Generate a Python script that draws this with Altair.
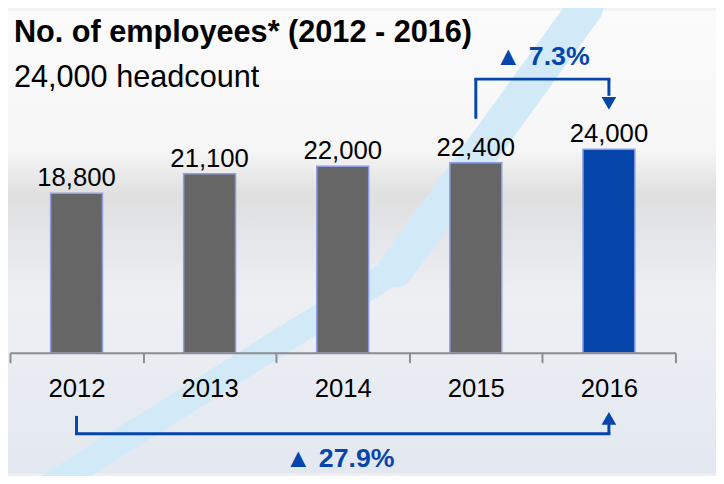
import altair as alt
import pandas as pd

years = ["2012", "2013", "2014", "2015", "2016"]
employees = [18800, 21100, 22000, 22400, 24000]
highlight = ["no", "no", "no", "no", "yes"]

title_text = "No. of employees* (2012 - 2016)"
subtitle_text = "24,000 headcount"

BLUE = "#0646ab"
GRAY = "#666666"
FONT = "Liberation Sans, Arial, sans-serif"

df = pd.DataFrame({"year": years, "employees": employees, "hl": highlight})

# annotation brackets (levels in data units of the y scale)
upper_from, upper_to = "2015", "2016"
upper_start, upper_level, upper_end, upper_tip = 27600, 32270, 30300, 29400
upper_label, upper_label_y = "▲  7.3%", 33900
lower_from, lower_to = "2012", "2016"
lower_start, lower_level, lower_end, lower_tip = -7450, -9550, -8300, -7750
lower_label, lower_label_y = "▲  27.9%", -13500

xscale = alt.Scale(domain=years, paddingInner=0, paddingOuter=0)
yscale = alt.Scale(domain=[0, 40000], nice=False)

# decorative background (photo-like gradient and light-blue stripe)
one = pd.DataFrame({"k": [0]})
bg = alt.Chart(one).mark_rect(
    fill=alt.Gradient(
        gradient="linear", x1=0, y1=0, x2=0, y2=1,
        stops=[
            alt.GradientStop(offset=0.0, color="#fbfbfb"),
            alt.GradientStop(offset=0.30, color="#f6f6f6"),
            alt.GradientStop(offset=0.40, color="#dfdfdf"),
            alt.GradientStop(offset=0.48, color="#e4e5e8"),
            alt.GradientStop(offset=0.62, color="#edeff3"),
            alt.GradientStop(offset=1.0, color="#e3e8f0"),
        ],
    )
).encode(x=alt.value(-2), x2=alt.value(714), y=alt.value(-3), y2=alt.value(465))

STRIPE = "#d2eaf8"
stripe_top = alt.Chart(one).mark_rule(color=STRIPE, strokeWidth=36, strokeCap="round").encode(
    x=alt.value(582), x2=alt.value(390), y=alt.value(-6), y2=alt.value(259)
)
stripe_bot = alt.Chart(one).mark_rule(color=STRIPE, strokeWidth=27, strokeCap="round").encode(
    x=alt.value(390), x2=alt.value(40), y=alt.value(259), y2=alt.value(478)
)

titles = alt.Chart(pd.DataFrame({"t": [title_text]})).mark_text(
    font=FONT, fontSize=31, fontWeight="bold", color="#000000", align="left", baseline="alphabetic"
).encode(x=alt.value(4), y=alt.value(29), text="t:N")
subtitles = alt.Chart(pd.DataFrame({"t": [subtitle_text]})).mark_text(
    font=FONT, fontSize=31, color="#000000", align="left", baseline="alphabetic"
).encode(x=alt.value(4), y=alt.value(74), text="t:N")

base = alt.Chart(df)

bars = base.mark_bar(width=alt.RelativeBandSize(0.39), stroke="#8e9ee6", strokeWidth=1.5).encode(
    x=alt.X("year:N", scale=xscale, title=None,
            axis=alt.Axis(tickBand="extent", labelAngle=0, labelFont=FONT, labelFontSize=26,
                          labelColor="#000000", labelPadding=13, domainColor="#8c8c8c",
                          domainWidth=2, tickColor="#8c8c8c", tickWidth=2, tickSize=10, zindex=1)),
    y=alt.Y("employees:Q", scale=yscale, axis=None),
    fill=alt.Fill("hl:N", scale=alt.Scale(domain=["no", "yes"], range=[GRAY, BLUE]), legend=None),
)

labels = base.mark_text(font=FONT, fontSize=26, baseline="alphabetic", dy=-7, color="#000000").encode(
    x=alt.X("year:N", scale=xscale),
    y=alt.Y("employees:Q", scale=yscale),
    text=alt.Text("employees:Q", format=","),
)

vdf = pd.DataFrame({
    "year": [upper_from, upper_to, lower_from, lower_to],
    "y1": [upper_start, upper_level, lower_start, lower_level],
    "y2": [upper_level, upper_end, lower_level, lower_end],
})
vlines = alt.Chart(vdf).mark_rule(color=BLUE, strokeWidth=3).encode(
    x=alt.X("year:N", scale=xscale),
    y=alt.Y("y1:Q", scale=yscale),
    y2="y2:Q",
)

hdf = pd.DataFrame({
    "a": [upper_from, lower_from],
    "b": [upper_to, lower_to],
    "lvl": [upper_level, lower_level],
})
hlines = alt.Chart(hdf).mark_rule(color=BLUE, strokeWidth=3, strokeCap="square").encode(
    x=alt.X("a:N", scale=xscale),
    x2="b:N",
    y=alt.Y("lvl:Q", scale=yscale),
)

adf = pd.DataFrame({
    "year": [upper_to, lower_to],
    "tip": [upper_tip, lower_tip],
    "shape": ["triangle-down", "triangle-up"],
})
arrows = alt.Chart(adf).mark_point(filled=True, opacity=1, color=BLUE, size=220).encode(
    x=alt.X("year:N", scale=xscale),
    y=alt.Y("tip:Q", scale=yscale),
    shape=alt.Shape("shape:N", scale=None),
)

tdf = pd.DataFrame({
    "year": [upper_from, "2014"],
    "ly": [upper_label_y, lower_label_y],
    "txt": [upper_label, lower_label],
})
up_text = alt.Chart(tdf.iloc[[0]]).mark_text(font=FONT, fontSize=27, fontWeight="bold", color=BLUE,
                                             baseline="alphabetic").encode(
    x=alt.X("year:N", scale=xscale, bandPosition=1),
    y=alt.Y("ly:Q", scale=yscale),
    text="txt:N",
)
low_text = alt.Chart(tdf.iloc[[1]]).mark_text(font=FONT, fontSize=27, fontWeight="bold", color=BLUE,
                                              baseline="alphabetic", dx=-3).encode(
    x=alt.X("year:N", scale=xscale),
    y=alt.Y("ly:Q", scale=yscale),
    text="txt:N",
)

chart = alt.layer(bg, stripe_top, stripe_bot, titles, subtitles, bars, labels, vlines, hlines,
                  arrows, up_text, low_text).properties(
    width=673,
    height=343,
    autosize=alt.AutoSizeParams(type="none"),
    padding={"left": 2, "top": 3, "right": 41, "bottom": 122},
).configure(background="#eef0f4").configure_view(stroke=None)

chart.save("out.html", embed_options={"renderer": "svg", "actions": False})
